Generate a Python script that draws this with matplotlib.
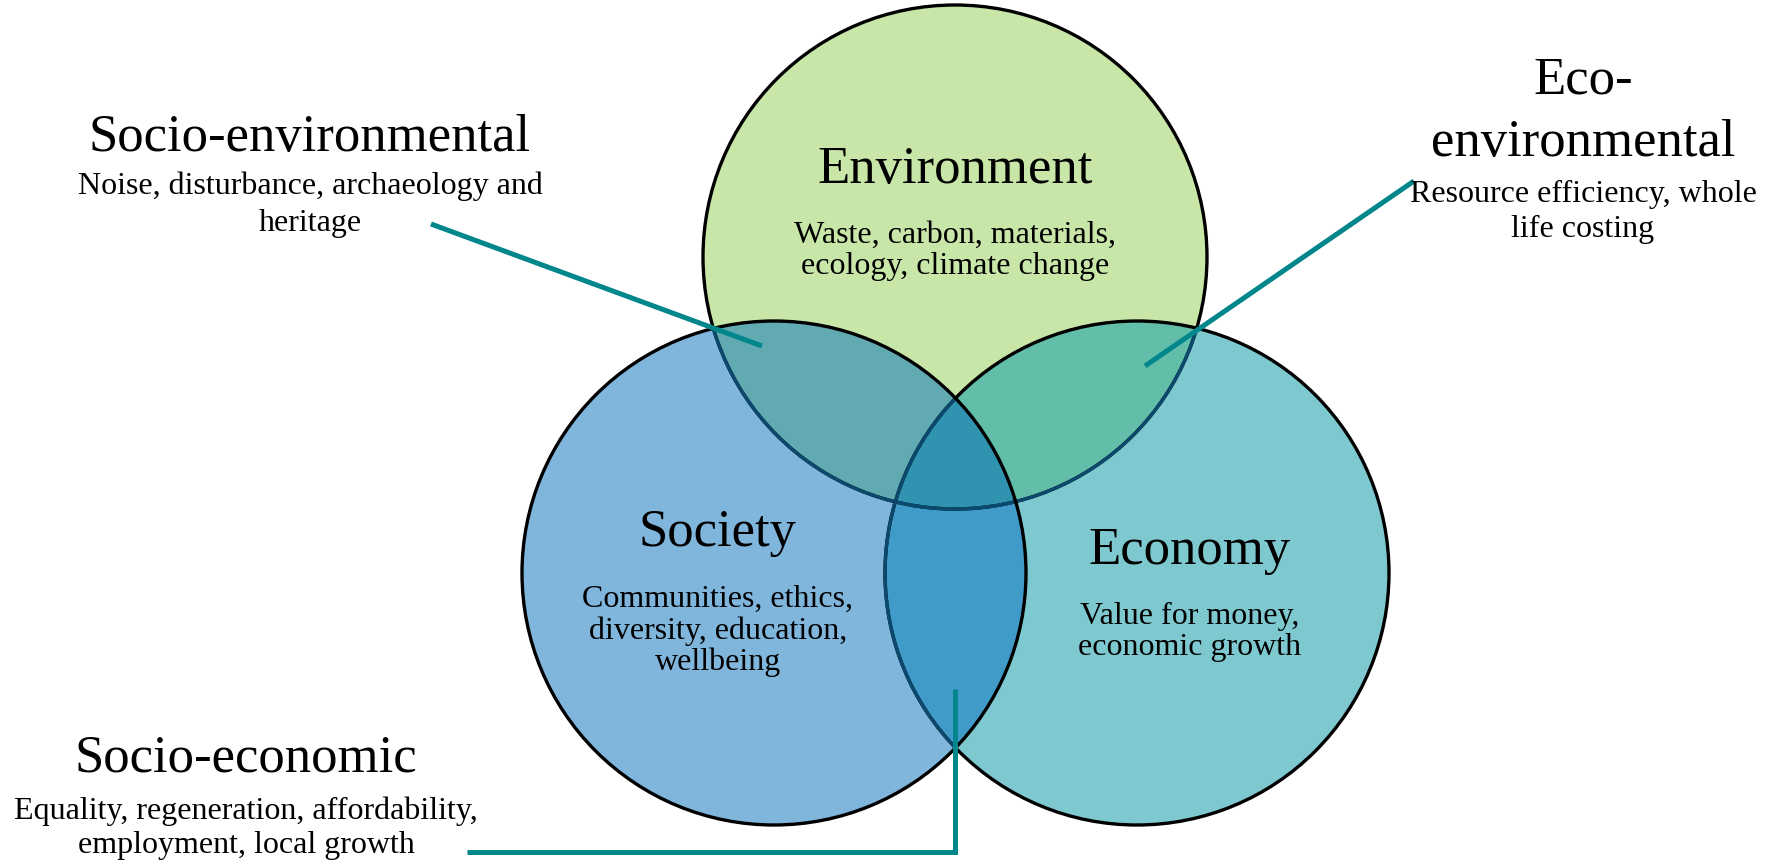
"""Sustainability Venn diagram: environment, society, economy"""
import numpy as np
import matplotlib
matplotlib.use("Agg")
from matplotlib import pyplot as plt
from matplotlib.patches import Circle, Polygon

plt.rcParams['font.family'] = ['Liberation Serif', 'DejaVu Serif']

# the three sets and what they cover
sets = ["Environment", "Society", "Economy"]
set_notes = ["Waste, carbon, materials,\necology, climate change",
             "Communities, ethics,\ndiversity, education,\nwellbeing",
             "Value for money,\neconomic growth"]
set_colors = ["#c8e6a8", "#80b5dc", "#7ec9d0"]

# the overlaps
pairs = [("Environment", "Society"), ("Environment", "Economy"), ("Society", "Economy")]
pair_titles = ["Socio-environmental", "Eco-\nenvironmental", "Socio-economic"]
pair_notes = ["Noise, disturbance, archaeology and\nheritage",
              "Resource efficiency, whole\nlife costing",
              "Equality, regeneration, affordability,\nemployment, local growth"]
pair_colors = ["#62aab2", "#62bea8", "#409bc8"]
core_color = "#3094b0"

# layout (pixels, y down)
W, H = 1777, 861
R = 252
centers = {"Environment": (955, 257), "Society": (774, 573), "Economy": (1137, 573)}
set_title_pos = {"Environment": (955, 170), "Society": (718, 533), "Economy": (1190, 551)}
set_note_pos = {"Environment": (955, 251), "Society": (718, 631), "Economy": (1190, 632)}
pair_title_pos = [(310, 138), (1583, 112), (246, 759)]
pair_note_pos = [(310, 205), (1583, 212), (246, 828)]
pair_title_spacing = [1.0, 1.4, 1.0]
pair_note_spacing = [1.38, 1.3, 1.25]
leaders = [([431, 762], [224, 346]),
           ([1414, 1145], [181, 366]),
           ([467, 955, 955], [852, 852, 689])]

EDGE = "black"
INNER_EDGE = "#0b4a6e"
LEAD = "#00868b"


def region(names):
    """Polygon of the intersection of the named disks."""
    th = np.linspace(0, 2 * np.pi, 3000)
    pts = []
    for n in names:
        cx, cy = centers[n]
        p = np.column_stack([cx + R * np.cos(th), cy + R * np.sin(th)])
        keep = np.ones(len(p), bool)
        for m in names:
            if m != n:
                mx, my = centers[m]
                keep &= np.hypot(p[:, 0] - mx, p[:, 1] - my) <= R + 1e-6
        pts.append(p[keep])
    pts = np.vstack(pts)
    c = pts.mean(axis=0)
    order = np.argsort(np.arctan2(pts[:, 1] - c[1], pts[:, 0] - c[0]))
    return pts[order]


fig = plt.figure(figsize=(W / 100, H / 100), dpi=100)
ax = fig.add_axes([0, 0, 1, 1])
ax.set_xlim(0, W)
ax.set_ylim(H, 0)
ax.set_aspect('equal')
ax.axis('off')

# fills
discs = {}
for name, col in zip(sets, set_colors):
    discs[name] = Circle(centers[name], R, fc=col, ec='none', zorder=1)
    ax.add_patch(discs[name])
for pr, col in zip(pairs, pair_colors):
    ax.add_patch(Polygon(region(pr), closed=True, fc=col, ec='none', zorder=2))
ax.add_patch(Polygon(region(sets), closed=True, fc=core_color, ec='none', zorder=3))

# outlines: black outside, dark blue where covered by a later circle
ax.add_patch(Circle(centers["Environment"], R, fill=False, ec=EDGE, lw=2.4, zorder=4))
for other in ["Society", "Economy"]:
    arc = Circle(centers["Environment"], R, fill=False, ec=INNER_EDGE, lw=2.4, zorder=5)
    ax.add_patch(arc)
    arc.set_clip_path(discs[other])
ax.add_patch(Circle(centers["Economy"], R, fill=False, ec=EDGE, lw=2.4, zorder=6))
arc = Circle(centers["Economy"], R, fill=False, ec=INNER_EDGE, lw=2.4, zorder=7)
ax.add_patch(arc)
arc.set_clip_path(discs["Society"])
ax.add_patch(Circle(centers["Society"], R, fill=False, ec=EDGE, lw=2.4, zorder=8))

# leader lines
for xs, ys in leaders:
    ax.plot(xs, ys, color=LEAD, lw=3.6, solid_capstyle='butt', solid_joinstyle='miter', zorder=9)

# text
for name, note in zip(sets, set_notes):
    ax.text(*set_title_pos[name], name, fontsize=38, ha='center', va='center', zorder=10)
    ax.text(*set_note_pos[name], note, fontsize=23, ha='center', va='center',
            linespacing=1.1, zorder=10)
for i, title in enumerate(pair_titles):
    ax.text(*pair_title_pos[i], title, fontsize=38, ha='center', va='center',
            linespacing=pair_title_spacing[i], zorder=10)
    ax.text(*pair_note_pos[i], pair_notes[i], fontsize=23, ha='center', va='center',
            linespacing=pair_note_spacing[i], zorder=10)

fig.savefig("out.png", dpi=100, facecolor="white")
